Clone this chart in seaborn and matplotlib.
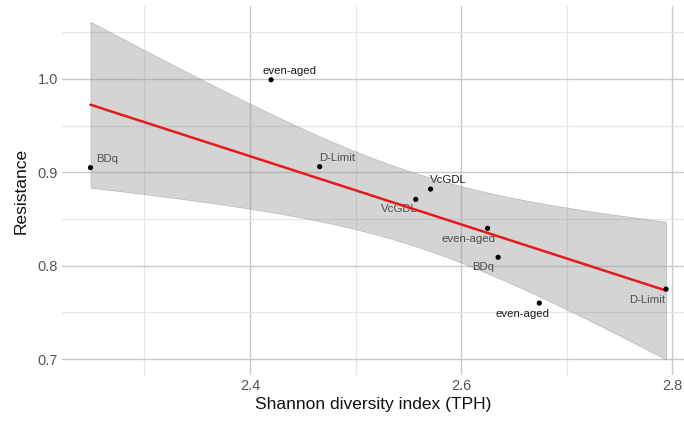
import numpy as np
import pandas as pd
import matplotlib
matplotlib.use("Agg")
import matplotlib.pyplot as plt
import seaborn as sns
from matplotlib.ticker import MultipleLocator

# data
shannon = [2.249, 2.420, 2.466, 2.571, 2.557, 2.625, 2.635, 2.674, 2.794]
resistance = [0.905, 0.999, 0.906, 0.882, 0.871, 0.840, 0.809, 0.760, 0.775]
labels = ["BDq", "even-aged", "D-Limit", "VcGDL", "VcGDL",
          "even-aged", "BDq", "even-aged", "D-Limit"]

df = pd.DataFrame({"x": shannon, "y": resistance, "lab": labels})

sns.set_theme(style="white")
plt.rcParams['font.family'] = ['Liberation Sans', 'DejaVu Sans']

fig = plt.figure(figsize=(6.84, 4.26), dpi=100)
ax = fig.add_axes([0.0906, 0.1197, 0.9094, 0.8663])

# analytic 95% confidence band (as ggplot geom_smooth(method='lm'))
x = np.array(shannon); y = np.array(resistance)
n = len(x)
b1, b0 = np.polyfit(x, y, 1)
resid = y - (b0 + b1 * x)
s = np.sqrt(np.sum(resid ** 2) / (n - 2))
xs = np.linspace(x.min(), x.max(), 80)
tcrit = 2.3646  # t(0.975, df=7)
se = s * np.sqrt(1 / n + (xs - x.mean()) ** 2 / np.sum((x - x.mean()) ** 2))
yhat = b0 + b1 * xs
ax.fill_between(xs, yhat - tcrit * se, yhat + tcrit * se, facecolor='#999999',
                alpha=0.42, edgecolor='#666666', linewidth=0.4, zorder=2)

sns.regplot(data=df, x="x", y="y", ci=None, ax=ax, scatter=False,
            line_kws=dict(color='#e41a1c', lw=1.8, zorder=3))
sns.scatterplot(data=df, x="x", y="y", ax=ax, color='black', s=14,
                edgecolor='none', zorder=4)

offsets = [(6, 6, 'left', 'baseline'), (-9, 6, 'left', 'baseline'),
           (-1, 6, 'left', 'baseline'), (-1, 6, 'left', 'baseline'),
           (2, -5, 'right', 'top'), (8, -6, 'right', 'top'),
           (-4, -5, 'right', 'top'), (-44, -6, 'left', 'top'),
           (-1, -6, 'right', 'top')]
for (xi, yi, lab), (dx, dy, ha, va) in zip(zip(shannon, resistance, labels), offsets):
    ax.annotate(lab, (xi, yi), xytext=(dx, dy), textcoords='offset pixels',
                ha=ha, va=va, fontsize=8.2, color='#1a1a1a', zorder=1.5)

ax.set_xlim(2.222, 2.811)
ax.set_ylim(0.683, 1.078)
ax.xaxis.set_major_locator(MultipleLocator(0.2))
ax.xaxis.set_minor_locator(MultipleLocator(0.1))
ax.yaxis.set_major_locator(MultipleLocator(0.1))
ax.yaxis.set_minor_locator(MultipleLocator(0.05))
ax.grid(which='major', color='#c9c9c9', linewidth=1.0, zorder=0)
ax.grid(which='minor', color='#e6e6e6', linewidth=0.9, zorder=0)
ax.set_axisbelow(True)
for sp in ax.spines.values():
    sp.set_visible(False)
ax.tick_params(which='both', length=0, labelsize=10.5, labelcolor='#555555', pad=3)
ax.set_xticks([2.4, 2.6, 2.8])
ax.set_xticklabels(['2.4', '2.6', '2.8'])
ax.set_yticks([0.7, 0.8, 0.9, 1.0])
ax.set_yticklabels(['0.7', '0.8', '0.9', '1.0'])
ax.set_xlabel("Shannon diversity index (TPH)", fontsize=12.5, color='#111111', labelpad=3)
ax.set_ylabel("Resistance", fontsize=12.5, color='#111111', labelpad=6)

fig.savefig("out.png", dpi=100)
